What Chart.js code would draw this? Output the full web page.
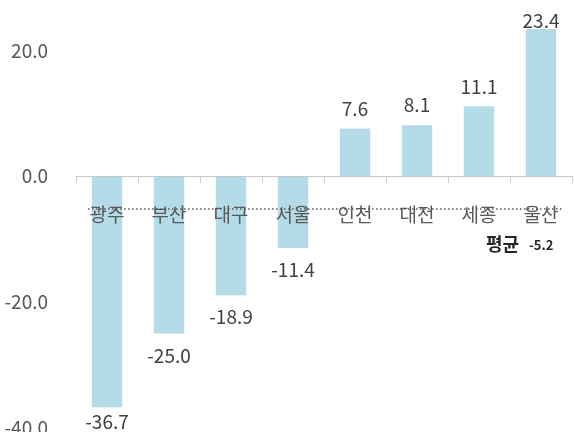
<!DOCTYPE html>
<html>
<head>
<meta charset="utf-8">
<script src="https://cdn.jsdelivr.net/npm/chart.js@4/dist/chart.umd.min.js"></script>
<style>
  html, body { margin: 0; padding: 0; background: #ffffff; }
  #wrap { width: 574px; height: 432px; position: relative; }
</style>
</head>
<body>
<div id="wrap"><canvas id="c" width="574" height="432"></canvas></div>
<script>
const categories = ['광주', '부산', '대구', '서울', '인천', '대전', '세종', '울산'];
const values = [-36.7, -25.0, -18.9, -11.4, 7.6, 8.1, 11.1, 23.4];
const yTicks = [-40, -20, 0, 20];
const average = -5.2;
const averageLabel = '평균';

const FONT = '"Noto Sans CJK KR", "Noto Sans", sans-serif';
const TEXT = '#595959';

const overlay = {
  id: 'overlay',
  afterDatasetsDraw(chart) {
    const ctx = chart.ctx;
    const area = chart.chartArea;
    const y = chart.scales.y;
    const meta = chart.getDatasetMeta(0);
    ctx.save();
    // value labels
    ctx.font = '19px ' + FONT;
    ctx.fillStyle = '#404040';
    ctx.textAlign = 'center';
    ctx.textBaseline = 'middle';
    meta.data.forEach((bar, i) => {
      const v = values[i];
      let ly;
      if (v >= 0) {
        ly = Math.max(bar.y - 20, 21);
      } else {
        ly = Math.min(bar.y + 22, 422);
      }
      ctx.fillText(v.toFixed(1), bar.x, ly);
    });
    // average dotted line
    const ay = y.getPixelForValue(average);
    ctx.strokeStyle = '#595959';
    ctx.lineWidth = 1.5;
    ctx.setLineDash([1.5, 2.5]);
    ctx.beginPath();
    ctx.moveTo(area.left + 12, ay);
    ctx.lineTo(area.right - 8, ay);
    ctx.stroke();
    ctx.setLineDash([]);
    // average label
    ctx.textAlign = 'left';
    ctx.textBaseline = 'middle';
    ctx.fillStyle = '#262626';
    ctx.font = 'bold 18px ' + FONT;
    ctx.fillText(averageLabel, 486, ay + 35);
    ctx.font = 'bold 13px ' + FONT;
    ctx.fillText(average.toFixed(1), 529, ay + 36);
    ctx.restore();
  }
};

new Chart(document.getElementById('c'), {
  type: 'bar',
  data: {
    labels: categories,
    datasets: [{
      data: values,
      backgroundColor: '#B4DBE8',
      borderWidth: 0,
      barPercentage: 0.49,
      categoryPercentage: 1.0
    }]
  },
  options: {
    responsive: false,
    animation: false,
    devicePixelRatio: 1,
    layout: { padding: { left: 0, right: 2, top: 0, bottom: 4 } },
    plugins: { legend: { display: false }, tooltip: { enabled: false } },
    scales: {
      x: {
        type: 'category',
        position: { y: 0 },
        offset: true,
        afterFit(scale) {
          scale.height = 0;
          scale.paddingLeft = 0; scale.paddingRight = 0;
          scale.paddingTop = 0; scale.paddingBottom = 0;
        },
        grid: {
          display: true,
          drawOnChartArea: false,
          drawTicks: true,
          tickLength: 6,
          offset: true,
          color: '#d0d0d0',
          z: 1
        },
        border: { display: true, color: '#c8c8c8', width: 1, z: 1 },
        ticks: {
          padding: 21,
          color: TEXT,
          font: { family: FONT, size: 19 },
          maxRotation: 0,
          autoSkip: false,
          z: 1
        }
      },
      y: {
        min: -40,
        max: 28,
        grid: { display: false },
        border: { display: false },
        afterBuildTicks(scale) {
          scale.ticks = yTicks.map(v => ({ value: v }));
        },
        afterFit(scale) {
          scale.width = 76;
          scale.paddingTop = 0;
          scale.paddingBottom = 0;
        },
        ticks: {
          padding: 20,
          color: TEXT,
          font: { family: FONT, size: 19 },
          callback: v => Number(v).toFixed(1)
        }
      }
    }
  },
  plugins: [overlay]
});
</script>
</body>
</html>
